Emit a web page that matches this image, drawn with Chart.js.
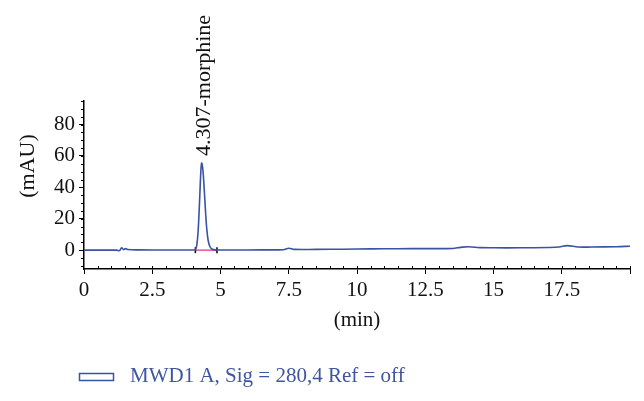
<!DOCTYPE html>
<html>
<head>
<meta charset="utf-8">
<script src="https://cdn.jsdelivr.net/npm/chart.js@4"></script>
<style>
  html, body { margin: 0; padding: 0; background: #fff; }
  #wrap { width: 644px; height: 401px; }
</style>
</head>
<body>
<div id="wrap"><canvas id="chrom"></canvas></div>
<script>
// retention time (min) and signal (mAU)
const times  = [0, 1.2, 1.3, 1.38, 1.45, 1.52, 1.6, 2.0, 3.0, 4.0, 4.08, 4.13, 4.18, 4.23, 4.28, 4.31, 4.35, 4.4, 4.45, 4.5, 4.55, 4.62, 4.7, 4.8, 5.5, 6.5, 7.3, 7.5, 7.7, 8.5, 9.5, 10.5, 11.5, 12.5, 13.5, 13.8, 14.1, 14.5, 15.0, 16.0, 17.0, 17.4, 17.7, 18.1, 18.6, 19.5, 20];
const signal = [0, 0, -0.3, 1.5, 0.3, 1.0, 0.4, 0.2, 0.1, 0.1, 0.3, 3, 12, 30, 50, 55.5, 52, 40, 25, 13, 6, 2, 0.6, 0.2, 0.1, 0.2, 0.3, 1.2, 0.5, 0.5, 0.6, 0.8, 0.9, 1.0, 1.1, 1.8, 2.2, 1.6, 1.5, 1.5, 1.7, 2.0, 2.9, 2.0, 2.0, 2.2, 2.5];

// integration baseline under the peak
const baseTimes  = [4.08, 4.87];
const baseValues = [0, 0];

const xTicks = [0, 2.5, 5, 7.5, 10, 12.5, 15, 17.5];
const yTicks = [0, 20, 40, 60, 80];

const peakTime  = 4.307;
const peakValue = 55.5;
const peakName  = "4.307-morphine";
const seriesName = "MWD1 A, Sig = 280,4 Ref = off";

const lineColor = "#3a53a4";
const serif = "'Liberation Serif', 'DejaVu Serif', serif";

const extras = {
  id: "extras",
  afterDraw(chart) {
    const ctx = chart.ctx;
    const x = chart.scales.x, y = chart.scales.y;
    const area = chart.chartArea;
    ctx.save();
    ctx.strokeStyle = "#000";
    ctx.lineWidth = 1;
    // minor ticks
    ctx.beginPath();
    for (let v = 0.5; v <= 20; v += 0.5) {
      const px = Math.round(x.getPixelForValue(v)) + 0.5;
      ctx.moveTo(px, area.bottom);
      ctx.lineTo(px, area.bottom - 3);
    }
    const endX = Math.round(x.getPixelForValue(20)) + 0.5;
    ctx.moveTo(endX, area.bottom);
    ctx.lineTo(endX, area.bottom + 5);
    for (let v = -10; v <= 95; v += 5) {
      const py = Math.round(y.getPixelForValue(v)) + 0.5;
      ctx.moveTo(area.left, py);
      ctx.lineTo(area.left - 3, py);
    }
    ctx.stroke();

    // y title
    ctx.fillStyle = "#111";
    ctx.font = "22px " + serif;
    ctx.textAlign = "center";
    ctx.textBaseline = "middle";
    ctx.translate(28, 166);
    ctx.rotate(-Math.PI / 2);
    ctx.fillText("(mAU)", 0, 0);
    ctx.setTransform(1, 0, 0, 1, 0, 0);

    // peak label
    const pkx = x.getPixelForValue(peakTime);
    const pky = y.getPixelForValue(peakValue);
    ctx.translate(pkx + 3, pky - 7);
    ctx.rotate(-Math.PI / 2);
    ctx.textAlign = "left";
    ctx.font = "22px " + serif;
    ctx.fillText(peakName, 0, 0);
    ctx.setTransform(1, 0, 0, 1, 0, 0);

    // legend
    ctx.strokeStyle = lineColor;
    ctx.lineWidth = 1.5;
    ctx.strokeRect(79.5, 373.5, 34, 7);
    ctx.fillStyle = "#3f55a0";
    ctx.font = "21px " + serif;
    ctx.textAlign = "left";
    ctx.textBaseline = "middle";
    ctx.fillText(seriesName, 130, 376);
    ctx.restore();
  }
};

new Chart(document.getElementById("chrom"), {
  type: "line",
  data: {
    datasets: [{
      label: seriesName,
      data: times.map((t, i) => ({ x: t, y: signal[i] })),
      borderColor: lineColor,
      borderWidth: 1.6,
      pointRadius: 0,
      tension: 0.35,
      order: 1
    }, {
      label: "baseline",
      data: baseTimes.map((t, i) => ({ x: t, y: baseValues[i] })),
      borderColor: "#e0559e",
      borderWidth: 1.5,
      pointRadius: 3,
      pointStyle: "line",
      rotation: 90,
      pointBorderColor: "#000",
      pointBorderWidth: 1.5,
      order: 2
    }]
  },
  options: {
    responsive: true,
    maintainAspectRatio: false,
    animation: false,
    layout: { padding: { left: 0, right: 14, top: 101, bottom: 68 } },
    plugins: { legend: { display: false }, tooltip: { enabled: false } },
    scales: {
      x: {
        type: "linear",
        min: 0,
        max: 20,
        afterBuildTicks: (s) => { s.ticks = xTicks.map(v => ({ value: v })); },
        afterFit: (s) => { s.height = 64; },
        grid: { drawOnChartArea: false, drawTicks: true, tickLength: 5, color: "#000" },
        border: { display: true, color: "#000", width: 1.5 },
        ticks: { color: "#111", font: { family: serif, size: 21 }, padding: 4, maxRotation: 0 },
        title: { display: true, text: "(min)", color: "#111", font: { family: serif, size: 21 }, padding: 0 }
      },
      y: {
        min: -12,
        max: 95,
        afterBuildTicks: (s) => { s.ticks = yTicks.map(v => ({ value: v })); },
        afterFit: (s) => { s.width = 84; },
        grid: { drawOnChartArea: false, drawTicks: true, tickLength: 5, color: "#000" },
        border: { display: true, color: "#000", width: 1.5 },
        ticks: { color: "#111", font: { family: serif, size: 21 }, padding: 4 }
      }
    }
  },
  plugins: [extras]
});
</script>
</body>
</html>
